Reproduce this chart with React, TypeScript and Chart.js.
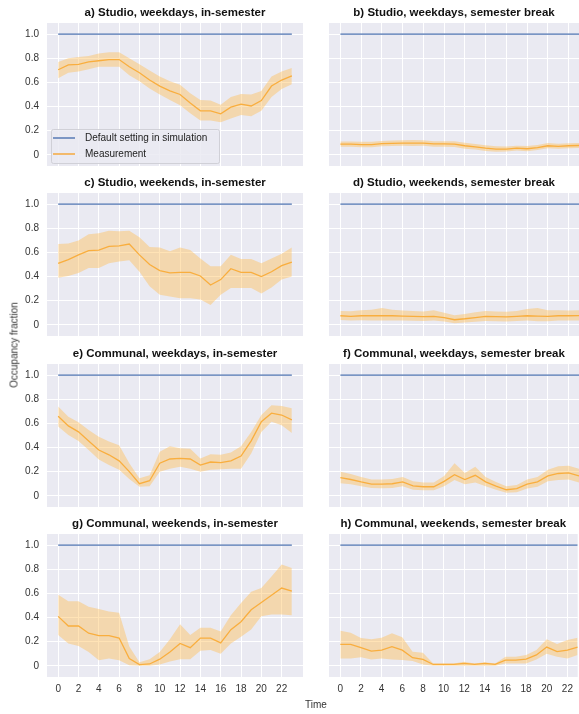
import { useEffect, useRef } from "react";
import { Chart, registerables } from "chart.js";

Chart.register(...registerables);

const FONT = '"Liberation Sans", Arial, Helvetica, sans-serif';
Chart.defaults.font.family = FONT;

// Hour of day (x values) and axis ticks
const HOURS = [0, 1, 2, 3, 4, 5, 6, 7, 8, 9, 10, 11, 12, 13, 14, 15, 16, 17, 18, 19, 20, 21, 22, 23];
const X_TICKS = [0, 2, 4, 6, 8, 10, 12, 14, 16, 18, 20, 22];
const Y_TICKS = [0, 0.2, 0.4, 0.6, 0.8, 1.0];

// Occupancy fraction assumed by the simulation's default schedule
const DEFAULT_SETTING = 1.0;

// a) Studio, weekdays, in-semester
const studioWeekdayTermMean = [0.705, 0.746, 0.75, 0.77, 0.78, 0.79, 0.79, 0.73, 0.68, 0.62, 0.57, 0.53, 0.5, 0.43, 0.365, 0.365, 0.34, 0.395, 0.42, 0.405, 0.45, 0.57, 0.62, 0.655];
const studioWeekdayTermUpper = [0.77, 0.8, 0.81, 0.82, 0.84, 0.85, 0.85, 0.8, 0.75, 0.7, 0.65, 0.61, 0.58, 0.51, 0.455, 0.45, 0.415, 0.48, 0.505, 0.5, 0.53, 0.65, 0.69, 0.72];
const studioWeekdayTermLower = [0.635, 0.68, 0.69, 0.71, 0.73, 0.73, 0.73, 0.66, 0.61, 0.55, 0.5, 0.455, 0.41, 0.345, 0.285, 0.285, 0.27, 0.3, 0.33, 0.32, 0.365, 0.48, 0.545, 0.585];

// b) Studio, weekdays, semester break
const studioWeekdayBreakMean = [0.088, 0.088, 0.085, 0.085, 0.092, 0.095, 0.097, 0.097, 0.097, 0.09, 0.09, 0.088, 0.075, 0.066, 0.055, 0.047, 0.047, 0.055, 0.05, 0.06, 0.075, 0.07, 0.075, 0.077];
const studioWeekdayBreakUpper = [0.11, 0.11, 0.108, 0.108, 0.115, 0.118, 0.12, 0.122, 0.12, 0.113, 0.113, 0.112, 0.1, 0.09, 0.08, 0.07, 0.068, 0.075, 0.072, 0.082, 0.097, 0.092, 0.096, 0.098];
const studioWeekdayBreakLower = [0.066, 0.066, 0.063, 0.063, 0.07, 0.072, 0.074, 0.073, 0.074, 0.067, 0.067, 0.064, 0.05, 0.043, 0.032, 0.026, 0.027, 0.035, 0.03, 0.04, 0.055, 0.05, 0.055, 0.057];

// c) Studio, weekends, in-semester
const studioWeekendTermMean = [0.51, 0.54, 0.58, 0.615, 0.62, 0.65, 0.655, 0.67, 0.58, 0.5, 0.45, 0.43, 0.435, 0.435, 0.405, 0.33, 0.375, 0.465, 0.435, 0.435, 0.4, 0.44, 0.49, 0.52];
const studioWeekendTermUpper = [0.67, 0.675, 0.7, 0.75, 0.76, 0.78, 0.775, 0.78, 0.725, 0.645, 0.64, 0.61, 0.64, 0.62, 0.55, 0.485, 0.485, 0.58, 0.545, 0.545, 0.51, 0.55, 0.59, 0.64];
const studioWeekendTermLower = [0.39, 0.405, 0.43, 0.47, 0.47, 0.51, 0.525, 0.535, 0.44, 0.32, 0.25, 0.235, 0.22, 0.22, 0.21, 0.165, 0.25, 0.305, 0.305, 0.305, 0.26, 0.31, 0.375, 0.4];

// d) Studio, weekends, semester break
const studioWeekendBreakMean = [0.075, 0.07, 0.075, 0.075, 0.075, 0.075, 0.072, 0.07, 0.068, 0.07, 0.06, 0.042, 0.05, 0.06, 0.07, 0.068, 0.065, 0.07, 0.075, 0.072, 0.07, 0.075, 0.075, 0.076];
const studioWeekendBreakUpper = [0.115, 0.112, 0.12, 0.125, 0.14, 0.125, 0.118, 0.115, 0.11, 0.12, 0.1, 0.08, 0.09, 0.105, 0.115, 0.11, 0.108, 0.115, 0.13, 0.14, 0.12, 0.12, 0.118, 0.12];
const studioWeekendBreakLower = [0.04, 0.035, 0.037, 0.036, 0.035, 0.035, 0.035, 0.033, 0.032, 0.035, 0.028, 0.012, 0.018, 0.025, 0.032, 0.03, 0.028, 0.032, 0.035, 0.03, 0.03, 0.035, 0.035, 0.036];

// e) Communal, weekdays, in-semester
const communalWeekdayTermMean = [0.66, 0.58, 0.53, 0.455, 0.38, 0.34, 0.29, 0.2, 0.1, 0.125, 0.27, 0.305, 0.31, 0.305, 0.255, 0.28, 0.275, 0.29, 0.33, 0.455, 0.615, 0.685, 0.67, 0.63];
const communalWeekdayTermUpper = [0.74, 0.655, 0.61, 0.545, 0.49, 0.45, 0.42, 0.27, 0.145, 0.17, 0.365, 0.41, 0.395, 0.39, 0.31, 0.345, 0.34, 0.36, 0.41, 0.53, 0.67, 0.75, 0.745, 0.725];
const communalWeekdayTermLower = [0.575, 0.505, 0.455, 0.38, 0.3, 0.255, 0.215, 0.14, 0.075, 0.08, 0.2, 0.225, 0.24, 0.225, 0.2, 0.215, 0.22, 0.225, 0.225, 0.35, 0.53, 0.615, 0.585, 0.52];

// f) Communal, weekdays, semester break
const communalWeekdayBreakMean = [0.15, 0.135, 0.115, 0.097, 0.097, 0.1, 0.115, 0.083, 0.075, 0.075, 0.12, 0.175, 0.135, 0.17, 0.115, 0.08, 0.05, 0.06, 0.097, 0.115, 0.165, 0.185, 0.19, 0.165];
const communalWeekdayBreakUpper = [0.2, 0.18, 0.155, 0.135, 0.135, 0.14, 0.155, 0.12, 0.11, 0.11, 0.165, 0.27, 0.19, 0.24, 0.155, 0.115, 0.08, 0.09, 0.135, 0.155, 0.215, 0.245, 0.25, 0.225];
const communalWeekdayBreakLower = [0.105, 0.095, 0.08, 0.065, 0.062, 0.065, 0.08, 0.05, 0.045, 0.045, 0.08, 0.13, 0.095, 0.11, 0.08, 0.05, 0.025, 0.03, 0.06, 0.075, 0.12, 0.13, 0.135, 0.11];

// g) Communal, weekends, in-semester
const communalWeekendTermMean = [0.41, 0.33, 0.33, 0.27, 0.25, 0.25, 0.23, 0.06, 0.01, 0.015, 0.055, 0.115, 0.185, 0.15, 0.23, 0.23, 0.19, 0.3, 0.365, 0.465, 0.525, 0.585, 0.645, 0.62];
const communalWeekendTermUpper = [0.59, 0.535, 0.535, 0.49, 0.47, 0.45, 0.44, 0.16, 0.03, 0.055, 0.115, 0.22, 0.345, 0.255, 0.315, 0.315, 0.285, 0.42, 0.52, 0.615, 0.645, 0.74, 0.84, 0.81];
const communalWeekendTermLower = [0.255, 0.185, 0.165, 0.115, 0.045, 0.06, 0.045, 0.005, 0.0, 0.0, 0.01, 0.035, 0.055, 0.055, 0.125, 0.13, 0.1, 0.185, 0.24, 0.3, 0.41, 0.425, 0.425, 0.42];

// h) Communal, weekends, semester break
const communalWeekendBreakMean = [0.178, 0.178, 0.15, 0.122, 0.13, 0.158, 0.13, 0.067, 0.053, 0.011, 0.011, 0.011, 0.02, 0.011, 0.02, 0.011, 0.047, 0.047, 0.055, 0.09, 0.155, 0.117, 0.13, 0.155];
const communalWeekendBreakUpper = [0.29, 0.275, 0.23, 0.22, 0.233, 0.27, 0.236, 0.117, 0.108, 0.02, 0.02, 0.02, 0.033, 0.02, 0.03, 0.02, 0.075, 0.075, 0.09, 0.13, 0.22, 0.18, 0.213, 0.233];
const communalWeekendBreakLower = [0.06, 0.06, 0.07, 0.053, 0.06, 0.053, 0.047, 0.039, 0.011, 0.0, 0.0, 0.0, 0.0, 0.0, 0.0, 0.0, 0.02, 0.02, 0.02, 0.053, 0.1, 0.075, 0.06, 0.09];

const TITLES = [
  "a) Studio, weekdays, in-semester",
  "b) Studio, weekdays, semester break",
  "c) Studio, weekends, in-semester",
  "d) Studio, weekends, semester break",
  "e) Communal, weekdays, in-semester",
  "f) Communal, weekdays, semester break",
  "g) Communal, weekends, in-semester",
  "h) Communal, weekends, semester break",
];

const SERIES = [
  [studioWeekdayTermMean, studioWeekdayTermUpper, studioWeekdayTermLower],
  [studioWeekdayBreakMean, studioWeekdayBreakUpper, studioWeekdayBreakLower],
  [studioWeekendTermMean, studioWeekendTermUpper, studioWeekendTermLower],
  [studioWeekendBreakMean, studioWeekendBreakUpper, studioWeekendBreakLower],
  [communalWeekdayTermMean, communalWeekdayTermUpper, communalWeekdayTermLower],
  [communalWeekdayBreakMean, communalWeekdayBreakUpper, communalWeekdayBreakLower],
  [communalWeekendTermMean, communalWeekendTermUpper, communalWeekendTermLower],
  [communalWeekendBreakMean, communalWeekendBreakUpper, communalWeekendBreakLower],
];

// Styling
const AXES_BG = "#EAEAF2";
const GRID = "#FFFFFF";
const BLUE = "#4C72B0";
const ORANGE = "#F5A431";
const BAND = "rgba(255, 188, 80, 0.42)";
const TEXT = "#333333";

// Layout of the 4x2 panel grid (page pixels)
const PLOT_TOPS = [23, 193, 364, 534];
const PLOT_H = 143;
const TITLE_H = 18;
const COLUMNS = [
  { left: 0, width: 306, axisW: 47, padRight: 3, xMax: 24.1, showY: true },
  { left: 320, width: 259, axisW: 9, padRight: 0, xMax: 23.0, showY: false },
];

const toPoints = (values: number[]) => HOURS.map((h, i) => ({ x: h, y: values[i] }));

const panelBackground = {
  id: "panelBackground",
  beforeDraw(chart: any) {
    const { ctx, chartArea: a } = chart;
    ctx.save();
    ctx.fillStyle = AXES_BG;
    ctx.fillRect(a.left, a.top, a.right - a.left, a.bottom - a.top);
    ctx.restore();
  },
};

const insetLegend = {
  id: "insetLegend",
  afterDatasetsDraw(chart: any) {
    const { ctx, chartArea: a } = chart;
    const w = 168;
    const h = 34;
    const x = a.left + 4;
    const y = a.bottom - 3 - h;
    ctx.save();
    ctx.beginPath();
    ctx.roundRect(x + 0.5, y + 0.5, w, h, 2);
    ctx.fillStyle = "rgba(234, 234, 242, 0.85)";
    ctx.fill();
    ctx.strokeStyle = "rgba(205, 205, 212, 0.9)";
    ctx.lineWidth = 1;
    ctx.stroke();
    const entries = [
      { label: "Default setting in simulation", color: BLUE },
      { label: "Measurement", color: ORANGE },
    ];
    ctx.font = `10px ${FONT}`;
    ctx.textBaseline = "middle";
    ctx.textAlign = "left";
    entries.forEach((e, i) => {
      const cy = y + 9 + i * 16;
      ctx.beginPath();
      ctx.moveTo(x + 2, cy);
      ctx.lineTo(x + 24, cy);
      ctx.strokeStyle = e.color;
      ctx.lineWidth = 1.4;
      ctx.stroke();
      ctx.fillStyle = "#222222";
      ctx.fillText(e.label, x + 34, cy);
    });
    ctx.restore();
  },
};

type PanelProps = { index: number };

function Panel({ index }: PanelProps) {
  const ref = useRef<HTMLCanvasElement>(null);
  const row = Math.floor(index / 2);
  const col = COLUMNS[index % 2];
  const bottomRow = row === PLOT_TOPS.length - 1;
  const bottomH = bottomRow ? 22 : 8;
  const top = PLOT_TOPS[row] - TITLE_H;
  const height = TITLE_H + PLOT_H + bottomH;

  useEffect(() => {
    const [mean, upper, lower] = SERIES[index];
    const chart = new Chart(ref.current as HTMLCanvasElement, {
      type: "line",
      data: {
        datasets: [
          {
            label: "upper",
            data: toPoints(upper),
            borderWidth: 0,
            pointRadius: 0,
            backgroundColor: BAND,
            fill: "+1",
            tension: 0,
          },
          {
            label: "lower",
            data: toPoints(lower),
            borderWidth: 0,
            pointRadius: 0,
            fill: false,
            tension: 0,
          },
          {
            label: "Measurement",
            data: toPoints(mean),
            borderColor: ORANGE,
            borderWidth: 1.3,
            pointRadius: 0,
            fill: false,
            tension: 0,
          },
          {
            label: "Default setting in simulation",
            data: HOURS.map((h) => ({ x: h, y: DEFAULT_SETTING })),
            borderColor: BLUE,
            borderWidth: 1.3,
            pointRadius: 0,
            fill: false,
            tension: 0,
          },
        ],
      },
      options: {
        responsive: false,
        animation: false,
        devicePixelRatio: 1,
        layout: { padding: { left: 0, right: col.padRight, top: 0, bottom: 0 } },
        plugins: {
          legend: { display: false },
          tooltip: { enabled: false },
          title: {
            display: true,
            fullSize: false,
            text: TITLES[index],
            color: "#111111",
            font: { size: 11.5, weight: "bold", lineHeight: 1.2, family: FONT },
            padding: { top: 0.5, bottom: 3.7 },
          },
        },
        scales: {
          x: {
            type: "linear",
            min: -1.1,
            max: col.xMax,
            border: { display: false },
            grid: { color: GRID, lineWidth: 1, drawTicks: false },
            ticks: {
              display: bottomRow,
              color: TEXT,
              padding: 6,
              font: { size: 10, family: FONT },
              maxRotation: 0,
              callback: (v: any) => String(v),
            },
            afterBuildTicks: (scale: any) => {
              scale.ticks = X_TICKS.map((v) => ({ value: v }));
            },
            afterFit: (scale: any) => {
              scale.height = bottomH;
            },
          },
          y: {
            type: "linear",
            min: -0.093,
            max: 1.093,
            border: { display: false },
            grid: { color: GRID, lineWidth: 1, drawTicks: false },
            ticks: {
              display: col.showY,
              color: TEXT,
              padding: 8,
              font: { size: 10, family: FONT },
              callback: (v: any) => (v === 0 ? "0" : Number(v).toFixed(1)),
            },
            afterBuildTicks: (scale: any) => {
              scale.ticks = Y_TICKS.map((v) => ({ value: v }));
            },
            afterFit: (scale: any) => {
              scale.width = col.axisW;
              scale.paddingTop = 0;
              scale.paddingBottom = 0;
            },
          },
        },
      },
      plugins: index === 0 ? [panelBackground, insetLegend] : [panelBackground],
    } as any);
    return () => chart.destroy();
  }, [index]);

  return (
    <canvas
      ref={ref}
      width={col.width}
      height={height}
      style={{ position: "absolute", left: col.left, top, width: col.width, height }}
    />
  );
}

export default function App() {
  return (
    <div
      style={{
        position: "absolute",
        left: 0,
        top: 0,
        width: 579,
        height: 714,
        background: "#FFFFFF",
        overflow: "hidden",
        fontFamily: FONT,
      }}
    >
      {TITLES.map((_, i) => (
        <Panel key={i} index={i} />
      ))}
      <div
        style={{
          position: "absolute",
          left: 14,
          top: 345,
          transform: "translate(-50%, -50%) rotate(-90deg)",
          whiteSpace: "nowrap",
          fontSize: 10,
          color: TEXT,
        }}
      >
        Occupancy fraction
      </div>
      <div
        style={{
          position: "absolute",
          left: 316,
          top: 704,
          transform: "translate(-50%, -50%)",
          whiteSpace: "nowrap",
          fontSize: 10,
          color: TEXT,
        }}
      >
        Time
      </div>
    </div>
  );
}
